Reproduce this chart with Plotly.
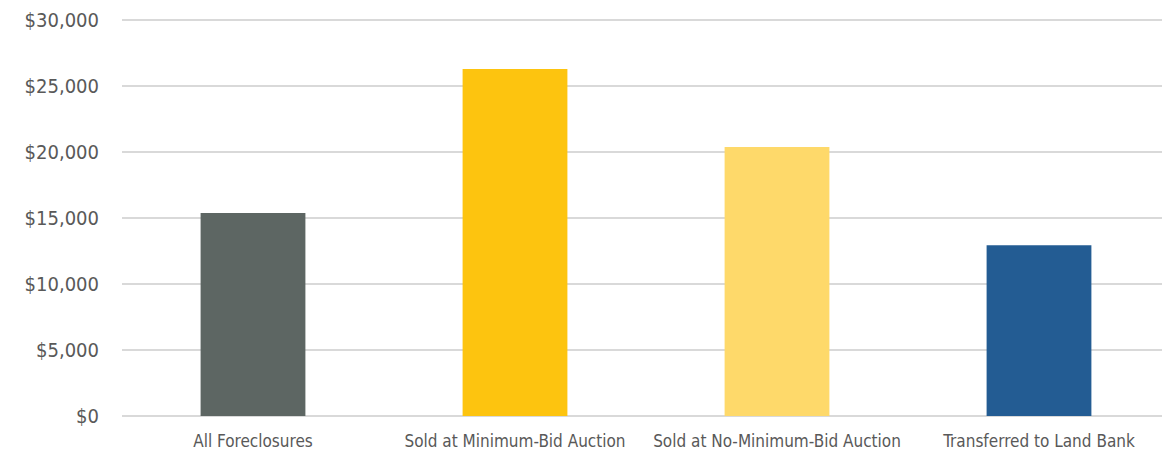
import plotly.graph_objects as go

categories = ["All Foreclosures", "Sold at Minimum-Bid Auction",
              "Sold at No-Minimum-Bid Auction", "Transferred to Land Bank"]
values = [15400, 26300, 20400, 12950]
colors = ["#5d6663", "#fdc40f", "#fed96a", "#235c93"]
tick_vals = [0, 5000, 10000, 15000, 20000, 25000, 30000]
tick_text = ["$0", "$5,000", "$10,000", "$15,000", "$20,000", "$25,000", "$30,000"]

font_family = "DejaVu Sans Condensed, Liberation Sans, sans-serif"

fig = go.Figure(go.Bar(x=categories, y=values, marker=dict(color=colors, line_width=0),
                       hoverinfo="x+y"))

fig.update_layout(
    width=1162, height=445,
    margin=dict(l=114, r=0, t=11, b=37),
    paper_bgcolor="white", plot_bgcolor="white",
    bargap=0.6,
    showlegend=False,
    font=dict(family=font_family, color="#595959"),
)
fig.update_xaxes(showgrid=False, showline=False, ticks="", automargin=False,
                 ticklabelstandoff=13,
                 tickfont=dict(size=17, family=font_family, color="#595959"))
fig.update_yaxes(range=[0, 30100], tickvals=tick_vals, ticktext=tick_text,
                 showgrid=True, gridcolor="#d9d9d9", gridwidth=1.5,
                 zeroline=True, zerolinecolor="#d9d9d9", zerolinewidth=1.5,
                 showline=False, ticks="", ticklabelstandoff=22, automargin=False,
                 tickfont=dict(size=20, family=font_family, color="#595959"))

fig.write_html("out.html")
